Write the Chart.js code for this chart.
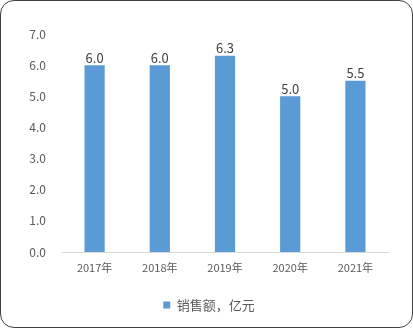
<!DOCTYPE html>
<html>
<head>
<meta charset="utf-8">
<script src="https://cdn.jsdelivr.net/npm/chart.js@4.4.1/dist/chart.umd.min.js"></script>
<style>
  html, body { margin: 0; padding: 0; background: #ffffff; }
  #wrap { position: relative; width: 413px; height: 328px; }
  #frame {
    position: absolute; left: 0; top: 0; width: 413px; height: 328px;
    box-sizing: border-box; border: 1.5px solid #404040; border-radius: 14px;
    pointer-events: none;
  }
  canvas { position: absolute; left: 0; top: 0; }
</style>
</head>
<body>
<div id="wrap">
  <canvas id="chart" width="413" height="328"></canvas>
  <div id="frame"></div>
</div>
<script>
// Annual sales, in 100 million yuan
const categories = ['2017年', '2018年', '2019年', '2020年', '2021年'];
const salesValues = [6.0, 6.0, 6.3, 5.0, 5.5];
const seriesName = '销售额，亿元';
const yTicks = [0, 1, 2, 3, 4, 5, 6, 7];

const FONT = '"Noto Sans CJK SC", "Noto Sans", sans-serif';
const TEXT = '#595959';
const BAR = '#5B9BD5';

// Value labels above each bar
const valueLabels = {
  id: 'valueLabels',
  afterDatasetsDraw(chart) {
    const ctx = chart.ctx;
    const meta = chart.getDatasetMeta(0);
    ctx.save();
    ctx.font = '13px ' + FONT;
    ctx.fillStyle = '#404040';
    ctx.textAlign = 'center';
    ctx.textBaseline = 'bottom';
    meta.data.forEach((bar, i) => {
      ctx.fillText(salesValues[i].toFixed(1), bar.x, bar.y - 1);
    });
    ctx.restore();
  }
};

// Center the legend under the plot area rather than the whole canvas
const legendShift = {
  id: 'legendShift',
  afterLayout(chart) {
    if (chart.legend) {
      chart.legend.left += 30;
    }
  }
};

new Chart(document.getElementById('chart'), {
  type: 'bar',
  data: {
    labels: categories,
    datasets: [{
      label: seriesName,
      data: salesValues,
      backgroundColor: BAR,
      borderWidth: 0,
      categoryPercentage: 1.0,
      barPercentage: 0.31
    }]
  },
  options: {
    responsive: false,
    animation: false,
    layout: { padding: { left: 0, right: 25, top: 34, bottom: 6.5 } },
    plugins: {
      tooltip: { enabled: false },
      legend: {
        position: 'bottom',
        labels: {
          color: TEXT,
          font: { family: FONT, size: 13 },
          boxWidth: 7,
          boxHeight: 7,
          padding: 10
        }
      }
    },
    scales: {
      x: {
        grid: { display: false, drawTicks: false },
        border: { display: true, color: '#D9D9D9', width: 1 },
        ticks: { color: TEXT, font: { family: FONT, size: 11 }, padding: 9 },
        afterFit(scale) { scale.height = 36.5; }
      },
      y: {
        min: 0,
        max: 7,
        afterBuildTicks(scale) { scale.ticks = yTicks.map(v => ({ value: v })); },
        grid: { display: false, drawTicks: false },
        border: { display: false },
        ticks: {
          color: TEXT,
          font: { family: FONT, size: 12 },
          padding: 16,
          callback: v => Number(v).toFixed(1)
        },
        afterFit(scale) { scale.width = 62; }
      }
    }
  },
  plugins: [valueLabels, legendShift]
});
</script>
</body>
</html>
